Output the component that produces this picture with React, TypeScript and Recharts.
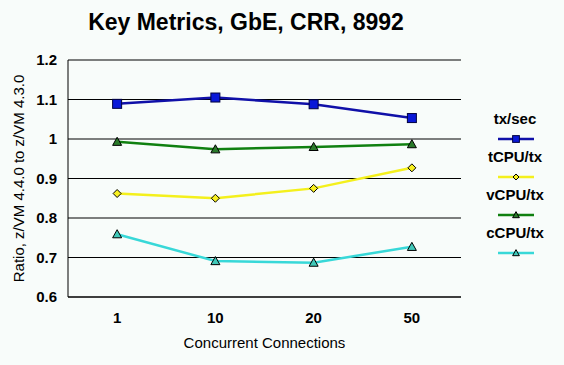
import { LineChart, Line, XAxis, YAxis, CartesianGrid } from "recharts";

const categories = ["1", "10", "20", "50"];
const txSec = [1.089, 1.105, 1.088, 1.053];
const tCpuTx = [0.862, 0.85, 0.875, 0.927];
const vCpuTx = [0.993, 0.974, 0.98, 0.987];
const cCpuTx = [0.759, 0.691, 0.687, 0.727];
const yTicks = [0.6, 0.7, 0.8, 0.9, 1, 1.1, 1.2];

const FONT = "'Liberation Sans', Arial, sans-serif";
const BG = "#F8FCFA";

type Shape = "square" | "diamond" | "triangle";

const series: { key: string; name: string; stroke: string; fill: string; shape: Shape }[] = [
  { key: "tx", name: "tx/sec", stroke: "#1010A8", fill: "#0A18D8", shape: "square" },
  { key: "t", name: "tCPU/tx", stroke: "#F4F01C", fill: "#F8F020", shape: "diamond" },
  { key: "v", name: "vCPU/tx", stroke: "#108010", fill: "#2A7A2A", shape: "triangle" },
  { key: "c", name: "cCPU/tx", stroke: "#38D8D8", fill: "#40C8B8", shape: "triangle" },
];

const data = categories.map((c, i) => ({
  cat: c,
  tx: txSec[i],
  t: tCpuTx[i],
  v: vCpuTx[i],
  c: cCpuTx[i],
}));

function Marker({ cx, cy, shape, fill, s = 1 }: { cx: number; cy: number; shape: Shape; fill: string; s?: number }) {
  if (shape === "square") {
    const h = 4.5 * s;
    return <rect x={cx - h} y={cy - h} width={2 * h} height={2 * h} fill={fill} stroke="#000040" strokeWidth={1} />;
  }
  if (shape === "diamond") {
    const h = 4 * s;
    return (
      <polygon
        points={`${cx},${cy - h} ${cx + h},${cy} ${cx},${cy + h} ${cx - h},${cy}`}
        fill={fill}
        stroke="#000"
        strokeWidth={1}
      />
    );
  }
  const h = 4.5 * s;
  return (
    <polygon
      points={`${cx},${cy - h} ${cx + h},${cy + h * 0.8} ${cx - h},${cy + h * 0.8}`}
      fill={fill}
      stroke="#000"
      strokeWidth={1}
    />
  );
}

const makeDot = (shape: Shape, fill: string) => (props: any) => {
  const { cx, cy, index } = props;
  if (cx == null || cy == null) return <g key={index} />;
  return <Marker key={index} cx={cx} cy={cy} shape={shape} fill={fill} />;
};

export default function App() {
  return (
    <div
      style={{
        position: "absolute",
        left: 0,
        top: 0,
        width: 564,
        height: 365,
        background: BG,
        fontFamily: FONT,
      }}
    >
      <div
        style={{
          position: "absolute",
          left: 0,
          width: 492,
          top: 8,
          textAlign: "center",
          fontSize: 23,
          fontWeight: "bold",
          lineHeight: "28px",
          color: "#000",
        }}
      >
        Key Metrics, GbE, CRR, 8992
      </div>

      <LineChart width={564} height={365} data={data} margin={{ top: 60, right: 103, bottom: 18, left: 8 }}>
        <CartesianGrid yAxisId="l" vertical={false} stroke="#000" strokeWidth={1} />
        <XAxis
          dataKey="cat"
          scale="band"
          height={50}
          tickLine={false}
          tickSize={0}
          tickMargin={15}
          axisLine={{ stroke: "#000" }}
          tick={{ fill: "#000", fontSize: 15, fontWeight: "bold", fontFamily: FONT }}
          label={{
            content: (p: any) => {
              const vb = p.viewBox;
              return (
                <text
                  x={vb.x + vb.width / 2}
                  y={vb.y + 51}
                  textAnchor="middle"
                  fontSize={15}
                  fontFamily={FONT}
                  fill="#000"
                >
                  Concurrent Connections
                </text>
              );
            },
          }}
        />
        <YAxis
          yAxisId="l"
          width={60}
          domain={[0.6, 1.2]}
          ticks={yTicks}
          interval={0}
          tickLine={false}
          tickSize={0}
          tickMargin={11}
          axisLine={{ stroke: "#000" }}
          tick={{ fill: "#000", fontSize: 15, fontWeight: "bold", fontFamily: FONT }}
          label={{
            content: (p: any) => {
              const vb = p.viewBox;
              const cy = vb.y + vb.height / 2;
              return (
                <text
                  x={24}
                  y={cy}
                  textAnchor="middle"
                  transform={`rotate(-90 24 ${cy})`}
                  fontSize={15}
                  fontFamily={FONT}
                  fill="#000"
                >
                  Ratio, z/VM 4.4.0 to z/VM 4.3.0
                </text>
              );
            },
          }}
        />
        <YAxis
          yAxisId="r"
          orientation="right"
          width={0}
          domain={[0.6, 1.2]}
          tick={false}
          tickLine={false}
          axisLine={{ stroke: "#000" }}
        />
        {series.map((s) => (
          <Line
            key={s.key}
            yAxisId="l"
            type="linear"
            dataKey={s.key}
            name={s.name}
            stroke={s.stroke}
            strokeWidth={2.5}
            dot={makeDot(s.shape, s.fill)}
            activeDot={false}
            isAnimationActive={false}
          />
        ))}
      </LineChart>

      {series.map((s, i) => (
        <div key={s.key} style={{ position: "absolute", left: 475, width: 80, top: 110 + i * 38 }}>
          <div
            style={{
              textAlign: "center",
              fontSize: 15,
              fontWeight: "bold",
              lineHeight: "18px",
              color: "#000",
            }}
          >
            {s.name}
          </div>
          <svg width={80} height={12} style={{ position: "absolute", left: 0, top: 23 }}>
            <line x1={23} x2={59} y1={6} y2={6} stroke={s.stroke} strokeWidth={2.5} />
            <Marker cx={41} cy={6} shape={s.shape} fill={s.fill} s={0.75} />
          </svg>
        </div>
      ))}
    </div>
  );
}
